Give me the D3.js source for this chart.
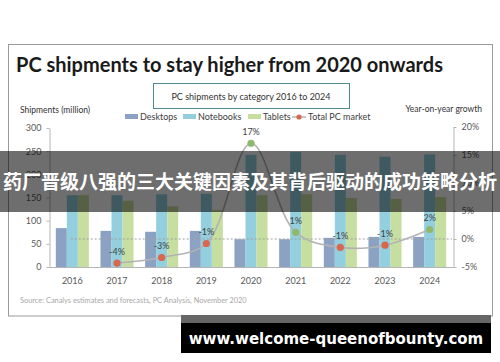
<!DOCTYPE html>
<meta charset="utf-8">
<style>
  body { margin: 0; background: #fff; }
  text { font-family: Lato, "Open Sans", sans-serif; }
</style>
<script src="https://d3js.org/d3.v7.min.js"></script>
<div id="chart"></div>
<script>
// values
var years = ["2016", "2017", "2018", "2019", "2020", "2021", "2022", "2023", "2024"];
var desktops  = [84, 78, 76, 78, 60, 60, 63, 65, 65];
var notebooks = [155, 155, 157, 158, 242, 248, 242, 238, 243];
var tablets   = [155, 143, 131, 123, 155, 157, 149, 147, 151];
var growth      = [null, -4.3, -3.3, -0.8, 17.1, 1.2, -1.5, -1.1, 1.7];
var growthLabel = ["", "-4%", "-3%", "-1%", "17%", "1%", "-1%", "-1%", "2%"];
var seriesNames = ["Desktops", "Notebooks", "Tablets"];
var leftTicks = [0, 50, 100, 150, 200, 250, 300];
var rightTicks = [-5, 0, 5, 10, 15, 20];

var W = 500, H = 362;
var colors = {Desktops: "#8ca2c3", Notebooks: "#93cfdf", Tablets: "#c6dea0"};

var svg = d3.select("#chart").append("svg")
  .attr("width", W).attr("height", H);

// outer frame
svg.append("rect")
  .attr("x", 8.5).attr("y", 44.5).attr("width", 484).attr("height", 271.5)
  .attr("fill", "#fff").attr("stroke", "#9a9a9a");

svg.append("text")
  .attr("x", 16).attr("y", 72)
  .style("font-size", "20px").style("font-weight", "bold").attr("fill", "#1a1a1a")
  .text("PC shipments to stay higher from 2020 onwards");

// sub title box
svg.append("rect")
  .attr("x", 153.5).attr("y", 83.5).attr("width", 196).attr("height", 25)
  .attr("fill", "#fff").attr("stroke", "#4f8b8e");
svg.append("text")
  .attr("x", 251).attr("y", 99.5).attr("text-anchor", "middle")
  .style("font-size", "9px").attr("fill", "#333")
  .text("PC shipments by category 2016 to 2024");

// scales
var x = d3.scaleBand().domain(years).range([50, 452]).paddingInner(0.26).paddingOuter(0.13);
var xs = d3.scaleBand().domain(seriesNames).range([0, x.bandwidth()]);
var y = d3.scaleLinear().domain([0, 300]).range([267, 128]);
var y2 = d3.scaleLinear().domain([-5, 20]).range([267, 127]);

// bars
var table = years.map(function(yr, i) {
  return {year: yr, Desktops: desktops[i], Notebooks: notebooks[i], Tablets: tablets[i]};
});
var groups = svg.append("g").selectAll("g")
  .data(table).enter().append("g")
  .attr("transform", function(d) { return "translate(" + x(d.year) + ",0)"; });
groups.selectAll("rect")
  .data(function(d) { return seriesNames.map(function(k) { return {key: k, value: d[k]}; }); })
  .enter().append("rect")
  .attr("x", function(d) { return xs(d.key); })
  .attr("width", xs.bandwidth())
  .attr("y", function(d) { return y(d.value); })
  .attr("height", function(d) { return y(0) - y(d.value); })
  .attr("fill", function(d) { return colors[d.key]; });

// zero growth reference
svg.append("line")
  .attr("x1", x(years[0]) + x.bandwidth() * 0.45).attr("x2", x.range()[1])
  .attr("y1", y2(0)).attr("y2", y2(0))
  .attr("stroke", "#a0a0a0").attr("stroke-dasharray", "2,2");

// axes
function styleAxis(g) {
  g.select(".domain").attr("stroke", "#b5b5b5");
  g.selectAll(".tick line").attr("stroke", "#b5b5b5");
  g.selectAll(".tick text").attr("fill", "#595959").style("font-size", "9px")
    .style("font-family", "Lato, sans-serif");
}
svg.append("g").attr("transform", "translate(49.5,0)")
  .call(d3.axisLeft(y).tickValues(leftTicks).tickSize(3).tickSizeOuter(0).tickPadding(5))
  .call(styleAxis);
svg.append("g").attr("transform", "translate(453.5,0)")
  .call(d3.axisRight(y2).tickValues(rightTicks).tickSize(3).tickSizeOuter(0).tickPadding(5)
    .tickFormat(function(d) { return d + "%"; }))
  .call(styleAxis);
svg.append("g").attr("transform", "translate(0,267.5)")
  .call(d3.axisBottom(x).tickSize(0).tickSizeOuter(0).tickPadding(10))
  .call(styleAxis)
  .call(function(g) { g.select(".domain").attr("d", "M49.5,0H453.5"); });

svg.append("text").attr("x", 20).attr("y", 113)
  .style("font-size", "8.5px").attr("fill", "#333").text("Shipments (million)");
svg.append("text").attr("x", 482).attr("y", 112).attr("text-anchor", "end")
  .style("font-size", "8.5px").attr("fill", "#333").text("Year-on-year growth");

// growth line
var pts = years.map(function(yr, i) {
  return {year: yr, v: growth[i], label: growthLabel[i]};
}).filter(function(d) { return d.v !== null; });
var line = d3.line()
  .x(function(d) { return x(d.year) + x.bandwidth() / 2; })
  .y(function(d) { return y2(d.v); })
  .curve(d3.curveCatmullRom.alpha(0.5));
svg.append("path").datum(pts).attr("d", line)
  .attr("fill", "none").attr("stroke", "#b3b3b3").attr("stroke-width", 1.6);
svg.selectAll(".dot").data(pts).enter().append("circle")
  .attr("cx", function(d) { return x(d.year) + x.bandwidth() / 2; })
  .attr("cy", function(d) { return y2(d.v); })
  .attr("r", 3.6)
  .attr("fill", function(d) { return d.v >= 0 ? "#8db86e" : "#d9674c"; });
svg.selectAll(".gl").data(pts).enter().append("text")
  .attr("x", function(d) { return x(d.year) + x.bandwidth() / 2; })
  .attr("y", function(d) { return y2(d.v) - 8; })
  .attr("text-anchor", "middle")
  .style("font-size", "9px").attr("fill", "#404040")
  .text(function(d) { return d.label; });

// legend
var legend = svg.append("g").attr("transform", "translate(0,117)");
var legendX = [125, 183, 248];
seriesNames.forEach(function(k, i) {
  legend.append("rect").attr("x", legendX[i]).attr("y", -3).attr("width", 13).attr("height", 5)
    .attr("fill", colors[k]);
  legend.append("text").attr("x", legendX[i] + 15).attr("y", 3)
    .style("font-size", "9px").attr("fill", "#404040").text(k);
});
legend.append("line").attr("x1", 292).attr("x2", 306).attr("y1", 0).attr("y2", 0)
  .attr("stroke", "#b3b3b3").attr("stroke-width", 1.5);
legend.append("circle").attr("cx", 299).attr("cy", 0).attr("r", 2.6).attr("fill", "#d9674c");
legend.append("text").attr("x", 308).attr("y", 3)
  .style("font-size", "9px").attr("fill", "#404040").text("Total PC market");

svg.append("text").attr("x", 20).attr("y", 303)
  .style("font-size", "7.4px").attr("fill", "#a8a8a8")
  .text("Source: Canalys estimates and forecasts, PC Analysis, November 2020");

// overlay banner
svg.append("rect").attr("x", 0).attr("y", 151).attr("width", W).attr("height", 61)
  .attr("fill", "#000").attr("opacity", 0.57);
svg.append("text").attr("x", 250).attr("y", 189).attr("text-anchor", "middle")
  .style("font-family", "'Noto Sans CJK SC', sans-serif")
  .style("font-size", "19px").style("font-weight", "bold").attr("fill", "#fff")
  .text("药厂晋级八强的三大关键因素及其背后驱动的成功策略分析");

// watermark
svg.append("rect").attr("x", 181).attr("y", 315).attr("width", 310).attr("height", 8)
  .attr("fill", "#666");
svg.append("rect").attr("x", 181).attr("y", 323).attr("width", 310).attr("height", 30)
  .attr("fill", "#000");
svg.append("text").attr("x", 336).attr("y", 344).attr("text-anchor", "middle")
  .style("font-family", "'DejaVu Sans', sans-serif")
  .style("font-size", "15px").style("font-weight", "bold").attr("fill", "#fff")
  .text("www.welcome-queenofbounty.com");
</script>
